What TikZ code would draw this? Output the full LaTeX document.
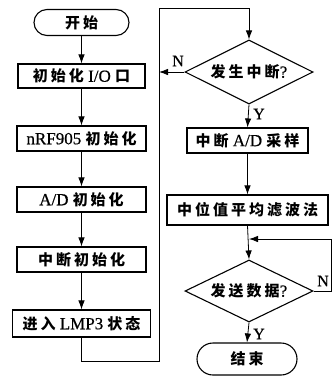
\documentclass[tikz,border=0pt]{standalone}
\usepackage{fontspec}
\usetikzlibrary{shapes.geometric,arrows.meta}
\setmainfont{Liberation Serif}[FakeBold=0.6]
\newfontfamily\cjkfont[LetterSpace=20]{Noto Sans CJK SC}
\newcommand\zh[1]{{\fontsize{15}{17}\selectfont\cjkfont\bfseries #1}}
\tikzset{
  every node/.style={font=\fontsize{17}{19}\selectfont},
  proc/.style={draw, line width=1.1pt, rectangle, inner sep=0pt},
  term/.style={draw, line width=1.1pt, rectangle, inner sep=0pt},
  dec/.style={draw, line width=1.1pt, diamond, aspect=2, inner sep=0pt},
  arr/.style={line width=0.8pt, -{Latex[length=9pt,width=6.5pt]}},
  lab/.style={inner sep=0pt, font=\fontsize{16}{18}\selectfont}
}
\begin{document}
\begin{tikzpicture}[x=1pt,y=-1pt]
\useasboundingbox (0,0) rectangle (333,383);
% left column
\node[term, rounded corners=13pt, minimum width=95pt, minimum height=26pt] (start) at (81.5,22.5) {\zh{开始}};
\node[proc, minimum width=127pt, minimum height=24pt] (b1) at (81.5,76) {\zh{初始化} I/O \zh{口}};
\node[proc, minimum width=129pt, minimum height=25pt] (b2) at (81.5,138.5) {nRF905 \zh{初始化}};
\node[proc, minimum width=129pt, minimum height=25pt] (b3) at (81.5,199.5) {A/D \zh{初始化}};
\node[proc, minimum width=129pt, minimum height=25pt] (b4) at (81.5,259.5) {\zh{中断初始化}};
\node[proc, minimum width=138pt, minimum height=27pt] (b5) at (81.5,323.5) {\zh{进入} LMP3 \zh{状态}};
% right column
\node[dec, minimum width=128pt, minimum height=64pt] (d1) at (249,72) {\zh{发生中断}?};
\node[proc, minimum width=121pt, minimum height=25pt] (b6) at (247.5,140.5) {\zh{中断} A/D \zh{采样}};
\node[proc, minimum width=161pt, minimum height=30pt] (b7) at (247.5,210) {\zh{中位值平均滤波法}};
\node[dec, minimum width=128pt, minimum height=62pt] (d2) at (249,291) {\zh{发送数据}?};
\node[term, rounded corners=16pt, minimum width=100pt, minimum height=32pt] (end) at (247,359) {\zh{结束}};
% labels
\node[lab] (n1) at (178,61) {N};
\node[lab] (y1) at (259,114) {Y};
\node[lab] (n2) at (323,281) {N};
\node[lab] (y2) at (259,334) {Y};
% coordinates
\coordinate (lb) at (159,361);
\coordinate (lt) at (159,8);
\coordinate (nj) at (159,72);
\coordinate (rr) at (331,291);
\coordinate (jn) at (249,239);
% connectors
\draw[arr] (start) -- (b1);
\draw[arr] (b1) -- (b2);
\draw[arr] (b2) -- (b3);
\draw[arr] (b3) -- (b4);
\draw[arr] (b4) -- (b5);
\draw[arr] (b5.south) |- (lb) -- (lt) -| (d1.north);
\draw[arr] (d1.west) -- (nj);
\draw[arr] (d1.south) -- (b6.north);
\draw[arr] (b6.south) -- (b7.north);
\draw[arr] (b7.south) -- (d2.north);
\draw[arr] (d2.east) -- (rr) |- (jn);
\draw[arr] (d2.south) -- (end.north);
\end{tikzpicture}
\end{document}
